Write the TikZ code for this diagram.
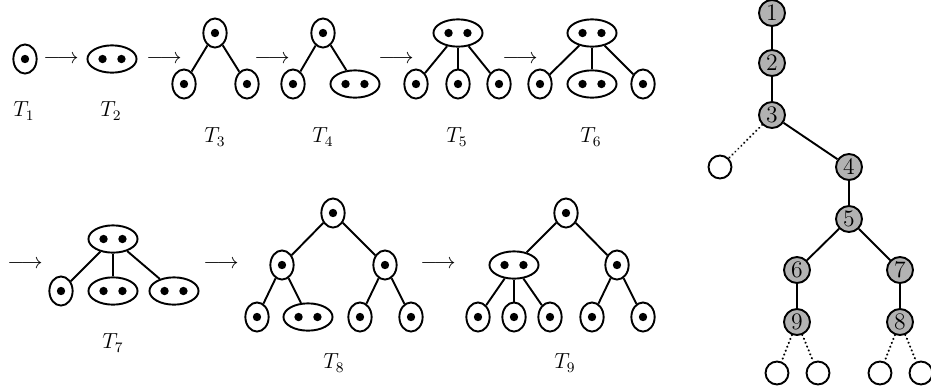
\documentclass[tikz,border=0pt]{standalone}
\usetikzlibrary{shapes.geometric}
\begin{document}
\begin{tikzpicture}[x=0.55pt,y=-0.55pt,
  lw/.style={line width=1.05pt},
  one/.style={ellipse,draw,lw,inner sep=0pt,minimum width=12.8pt,minimum height=16pt,
    path picture={\fill (path picture bounding box.center) circle (2.3pt);}},
  two/.style={ellipse,draw,lw,inner sep=0pt,minimum width=27pt,minimum height=15pt,
    path picture={\fill ([xshift=-5.2pt]path picture bounding box.center) circle (2.3pt);
                  \fill ([xshift=5.2pt]path picture bounding box.center) circle (2.3pt);}},
  gnode/.style={circle,draw,lw,fill=black!30,inner sep=0pt,minimum size=14.3pt,font=\fontsize{13}{15}\selectfont},
  enode/.style={circle,draw,lw,inner sep=0pt,minimum size=12.6pt},
  edge/.style={lw},
  dots/.style={line width=1.3pt,line cap=round,dash pattern=on 0.01pt off 2.3pt},
  lab/.style={inner sep=0pt,font=\large},
  arr/.style={inner sep=0pt,font=\large}
]
\useasboundingbox (0,0) rectangle (931,387);

% T1
\node[one] (t1a) at (25,59) {};
\node[lab] (l1) at (24,111) {$T_1$};
\node[arr] (a1) at (61,59) {$\longrightarrow$};
% T2
\node[two] (t2a) at (112,59) {};
\node[lab] (l2) at (111,111) {$T_2$};
\node[arr] (a2) at (164,59) {$\longrightarrow$};
% T3
\node[one] (t3a) at (215,33) {};
\node[one] (t3b) at (184,84) {};
\node[one] (t3c) at (247,84) {};
\draw[edge] (t3a) -- (t3b); \draw[edge] (t3a) -- (t3c);
\node[lab] (l3) at (215,137) {$T_3$};
\node[arr] (a3) at (272,59) {$\longrightarrow$};
% T4
\node[one] (t4a) at (323,33) {};
\node[one] (t4b) at (293,84) {};
\node[two] (t4c) at (355,84) {};
\draw[edge] (t4a) -- (t4b); \draw[edge] (t4a) -- (t4c);
\node[lab] (l4) at (323,137) {$T_4$};
\node[arr] (a4) at (396,59) {$\longrightarrow$};
% T5
\node[two] (t5a) at (458,33) {};
\node[one] (t5b) at (416,84) {};
\node[one] (t5c) at (458,84) {};
\node[one] (t5d) at (499,84) {};
\draw[edge] (t5a) -- (t5b); \draw[edge] (t5a) -- (t5c); \draw[edge] (t5a) -- (t5d);
\node[lab] (l5) at (457,137) {$T_5$};
\node[arr] (a5) at (520,59) {$\longrightarrow$};
% T6
\node[two] (t6a) at (592,33) {};
\node[one] (t6b) at (540,84) {};
\node[two] (t6c) at (592,84) {};
\node[one] (t6d) at (643,84) {};
\draw[edge] (t6a) -- (t6b); \draw[edge] (t6a) -- (t6c); \draw[edge] (t6a) -- (t6d);
\node[lab] (l6) at (591,137) {$T_6$};

% T7
\node[arr] (a6) at (25,264) {$\longrightarrow$};
\node[two] (t7a) at (113,239) {};
\node[one] (t7b) at (61,291) {};
\node[two] (t7c) at (113,291) {};
\node[two] (t7d) at (174,291) {};
\draw[edge] (t7a) -- (t7b); \draw[edge] (t7a) -- (t7c); \draw[edge] (t7a) -- (t7d);
\node[lab] (l7) at (113,343) {$T_7$};
\node[arr] (a7) at (221,264) {$\longrightarrow$};
% T8
\node[one] (t8a) at (333,213) {};
\node[one] (t8b) at (282,265) {};
\node[one] (t8c) at (385,265) {};
\node[one] (t8d) at (257,317) {};
\node[two] (t8e) at (308,317) {};
\node[one] (t8f) at (360,317) {};
\node[one] (t8g) at (411,317) {};
\draw[edge] (t8a) -- (t8b); \draw[edge] (t8a) -- (t8c);
\draw[edge] (t8b) -- (t8d); \draw[edge] (t8b) -- (t8e);
\draw[edge] (t8c) -- (t8f); \draw[edge] (t8c) -- (t8g);
\node[lab] (l8) at (334,363) {$T_8$};
\node[arr] (a8) at (438,264) {$\longrightarrow$};
% T9
\node[one] (t9a) at (566,213) {};
\node[two] (t9b) at (514,265) {};
\node[one] (t9c) at (617,265) {};
\node[one] (t9d) at (478,317) {};
\node[one] (t9e) at (514,317) {};
\node[one] (t9f) at (550,317) {};
\node[one] (t9g) at (592,317) {};
\node[one] (t9h) at (643,317) {};
\draw[edge] (t9a) -- (t9b); \draw[edge] (t9a) -- (t9c);
\draw[edge] (t9b) -- (t9d); \draw[edge] (t9b) -- (t9e); \draw[edge] (t9b) -- (t9f);
\draw[edge] (t9c) -- (t9g); \draw[edge] (t9c) -- (t9h);
\node[lab] (l9) at (565,363) {$T_9$};

% right tree
\node[gnode] (n1) at (772,13) {1};
\node[gnode] (n2) at (772,63) {2};
\node[gnode] (n3) at (772,115) {3};
\node[enode] (e1) at (720,167) {};
\node[gnode] (n4) at (849,167) {4};
\node[gnode] (n5) at (849,219) {5};
\node[gnode] (n6) at (797,270) {6};
\node[gnode] (n7) at (900,270) {7};
\node[gnode] (n9) at (797,322) {9};
\node[gnode] (n8) at (900,322) {8};
\node[enode] (e2) at (777,373) {};
\node[enode] (e3) at (818,373) {};
\node[enode] (e4) at (880,373) {};
\node[enode] (e5) at (921,373) {};
\draw[edge] (n1) -- (n2); \draw[edge] (n2) -- (n3); \draw[edge] (n3) -- (n4);
\draw[edge] (n4) -- (n5); \draw[edge] (n5) -- (n6); \draw[edge] (n5) -- (n7);
\draw[edge] (n6) -- (n9); \draw[edge] (n7) -- (n8);
\draw[dots] (n3) -- (e1);
\draw[dots] (n9) -- (e2); \draw[dots] (n9) -- (e3);
\draw[dots] (n8) -- (e4); \draw[dots] (n8) -- (e5);
\end{tikzpicture}
\end{document}
